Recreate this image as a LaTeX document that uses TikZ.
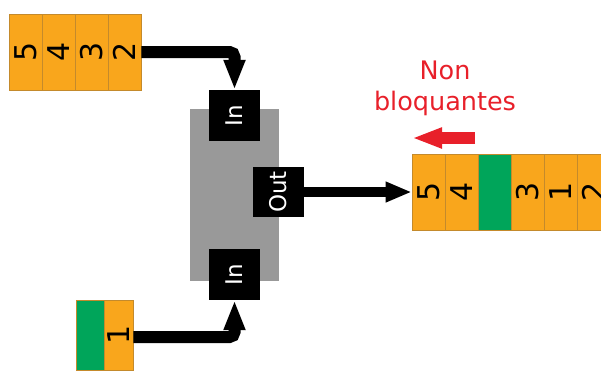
\documentclass[tikz,border=0pt]{standalone}
\usepackage{fontspec}
\setmainfont{DejaVu Sans}
\usepackage{tikz}
\usetikzlibrary{positioning,arrows.meta}
\definecolor{orng}{HTML}{F9A61C}
\definecolor{orngdk}{HTML}{C48A2C}
\definecolor{grn}{HTML}{00A55A}
\definecolor{redarr}{HTML}{E8202A}
\newcommand{\vtxt}[1]{\rotatebox{90}{#1}}
\tikzset{
  cell/.style={draw=orngdk,fill=orng,line width=0.6pt,inner sep=0pt,
    minimum width=33pt,minimum height=76pt,font=\fontsize{30}{30}\selectfont},
  gcell/.style={cell,fill=grn},
  fifobox/.style={fill=black!40,inner sep=0pt,minimum width=89pt,minimum height=172pt},
  port/.style={fill=black,text=white,inner sep=0pt,minimum size=51pt,
    font=\fontsize{23}{23}\selectfont},
  pipe/.style={-{Triangle[length=30pt,width=20pt]},line width=12pt,rounded corners=5pt},
  outpipe/.style={-{Triangle[length=26pt,width=19pt]},line width=10pt},
  back/.style={-{Triangle[length=30pt,width=19pt]},line width=12pt,draw=redarr},
  lbl/.style={text=redarr,align=center,font=\fontsize{25.5}{31}\selectfont},
}
\begin{document}
\begin{tikzpicture}[x=1pt,y=-1pt]
  \clip (0,0) rectangle (601,370);
  % waiting queue, top
  \foreach \n [count=\i] in {5,4,3,2}{\node[cell] (t\n) at ({33*\i-7.5},52) {\vtxt{\n}};}
  % waiting queue, bottom
  \node[gcell,minimum width=28pt,minimum height=70pt] (bg) at (90,335) {};
  \node[cell,minimum width=29pt,minimum height=70pt] (b1) at (118.5,335) {\vtxt{1}};
  % the merging box and its ports
  \node[fifobox] (fifo) at (234.5,195) {};
  \node[port] (inA) at (234.5,115.5) {\vtxt{In}};
  \node[port] (inB) at (234.5,274.5) {\vtxt{In}};
  \node[port,minimum height=50pt] (out) at (278.5,192) {\vtxt{Out}};
  % output queue
  \foreach \n/\x in {5/428.5,4/461.5,3/527.5,1/560.5,2/593.5}{\node[cell] (r\n) at (\x,192) {\vtxt{\n}};}
  \node[gcell] (rg) at (494.5,192) {};
  % arrows
  \draw[pipe] (t2.east) -| (inA.north);
  \draw[pipe] (b1.east |- 0,337) -| (inB.south);
  \draw[outpipe] (out.east) -- (r5.west);
  % label
  \node[lbl] (nb) at (445,88) {Non\\bloquantes};
  \coordinate (bkA) at (475,138);
  \coordinate (bkB) at (412,138);
  \draw[back] (bkA) -- (bkB);
\end{tikzpicture}
\end{document}
